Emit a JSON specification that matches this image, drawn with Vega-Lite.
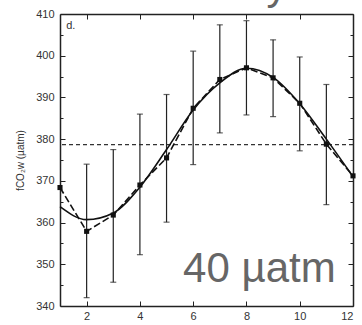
{
  "$schema": "https://vega.github.io/schema/vega-lite/v6.json",
  "width": 293,
  "height": 292,
  "autosize": "none",
  "padding": {"left": 60, "top": 14, "right": 9, "bottom": 19},
  "background": "white",
  "config": {
    "view": {"stroke": null},
    "font": "Liberation Sans",
    "axis": {
      "grid": false,
      "domainColor": "#222",
      "domainWidth": 1.5,
      "tickColor": "#222",
      "tickWidth": 1,
      "labelFont": "Liberation Sans",
      "labelFontSize": 11,
      "labelColor": "#333",
      "titleFont": "Liberation Sans",
      "titleFontWeight": "normal",
      "titleColor": "#333"
    }
  },
  "datasets": {
    "obs": [
      {"month": 1, "fco2": 368.4},
      {"month": 2, "fco2": 357.9, "lo": 342.0, "hi": 374.0},
      {"month": 3, "fco2": 361.8, "lo": 345.7, "hi": 377.5},
      {"month": 4, "fco2": 369.0, "lo": 352.3, "hi": 386.0},
      {"month": 5, "fco2": 375.5, "lo": 360.1, "hi": 390.7},
      {"month": 6, "fco2": 387.4, "lo": 373.9, "hi": 401.1},
      {"month": 7, "fco2": 394.3, "lo": 381.5, "hi": 407.4},
      {"month": 8, "fco2": 397.1, "lo": 385.8, "hi": 408.4},
      {"month": 9, "fco2": 394.7, "lo": 385.4, "hi": 403.8},
      {"month": 10, "fco2": 388.6, "lo": 377.2, "hi": 399.7},
      {"month": 11, "fco2": 378.8, "lo": 364.3, "hi": 393.1},
      {"month": 12, "fco2": 371.2}
    ],
    "fit": [
      {"month": 1, "fco2": 363.8},
      {"month": 2, "fco2": 360.7},
      {"month": 3, "fco2": 362.3},
      {"month": 4, "fco2": 368.5},
      {"month": 5, "fco2": 377.5},
      {"month": 6, "fco2": 387.0},
      {"month": 7, "fco2": 393.5},
      {"month": 8, "fco2": 397.0},
      {"month": 9, "fco2": 394.8},
      {"month": 10, "fco2": 388.5},
      {"month": 11, "fco2": 380.0},
      {"month": 12, "fco2": 371.0}
    ],
    "mean": [{"fco2": 378.7}],
    "labels": [
      {"month": 1.23, "fco2": 407.1, "text": "d.", "kind": "panel"},
      {"month": 5.62, "fco2": 345.7, "text": "40 µatm", "kind": "big"},
      {"month": 8.75, "fco2": 413.6, "text": "y", "kind": "top"},
      {"month": -0.88, "fco2": 335.4, "text": "Takahashi et al. (2010)", "kind": "caption"}
    ]
  },
  "resolve": {"axis": {"x": "independent", "y": "independent"}},
  "layer": [
    {
      "data": {"name": "mean"},
      "mark": {"type": "rule", "strokeDash": [4, 3], "color": "#333", "strokeWidth": 1.2},
      "encoding": {
        "y": {
          "field": "fco2", "type": "quantitative",
          "scale": {"domain": [340, 410], "nice": false, "zero": false},
          "axis": {
            "orient": "left",
            "values": [340, 345, 350, 355, 360, 365, 370, 375, 380, 385, 390, 395, 400, 405, 410],
            "labelExpr": "datum.value % 10 === 0 ? datum.label : ''",
            "tickSize": {"condition": {"test": "datum.value % 10 === 0", "value": -5}, "value": -3},
            "labelPadding": 11,
            "title": "fCO₂w (µatm)",
            "titleFontSize": 10,
            "titlePadding": 10
          }
        }
      }
    },
    {
      "data": {"name": "obs"},
      "mark": {"type": "rule", "color": "#222", "strokeWidth": 1.2},
      "encoding": {
        "x": {
          "field": "month", "type": "quantitative",
          "scale": {"domain": [1, 12], "nice": false, "zero": false},
          "axis": {
            "orient": "bottom",
            "values": [2, 4, 6, 8, 10, 12],
            "tickSize": -5,
            "labelPadding": 9,
            "title": null
          }
        },
        "y": {
          "field": "lo", "type": "quantitative",
          "axis": {
            "orient": "right",
            "values": [340, 345, 350, 355, 360, 365, 370, 375, 380, 385, 390, 395, 400, 405, 410],
            "labels": false,
            "tickSize": {"condition": {"test": "datum.value % 10 === 0", "value": -5}, "value": -3},
            "title": null
          }
        },
        "y2": {"field": "hi"}
      }
    },
    {
      "data": {"name": "obs"},
      "mark": {"type": "tick", "orient": "horizontal", "size": 6, "thickness": 1.2, "color": "#222"},
      "encoding": {
        "x": {
          "field": "month", "type": "quantitative",
          "axis": {"orient": "top", "values": [2, 4, 6, 8, 10, 12], "labels": false, "tickSize": -5, "title": null}
        },
        "y": {"field": "lo", "type": "quantitative", "axis": null}
      }
    },
    {
      "data": {"name": "obs"},
      "mark": {"type": "tick", "orient": "horizontal", "size": 6, "thickness": 1.2, "color": "#222"},
      "encoding": {
        "x": {"field": "month", "type": "quantitative", "axis": null},
        "y": {"field": "hi", "type": "quantitative", "axis": null}
      }
    },
    {
      "data": {"name": "obs"},
      "mark": {"type": "line", "color": "#111", "strokeWidth": 1.6, "strokeDash": [7, 3]},
      "encoding": {
        "x": {"field": "month", "type": "quantitative", "axis": null},
        "y": {"field": "fco2", "type": "quantitative", "axis": null}
      }
    },
    {
      "data": {"name": "obs"},
      "mark": {"type": "point", "shape": "square", "filled": true, "size": 26, "color": "#111", "opacity": 1},
      "encoding": {
        "x": {"field": "month", "type": "quantitative", "axis": null},
        "y": {"field": "fco2", "type": "quantitative", "axis": null}
      }
    },
    {
      "data": {"name": "fit"},
      "mark": {"type": "line", "color": "#111", "strokeWidth": 1.6, "interpolate": "monotone"},
      "encoding": {
        "x": {"field": "month", "type": "quantitative", "axis": null},
        "y": {"field": "fco2", "type": "quantitative", "axis": null}
      }
    },
    {
      "data": {"name": "labels"},
      "transform": [{"filter": "datum.kind === 'panel'"}],
      "mark": {"type": "text", "align": "left", "baseline": "middle", "fontSize": 11, "color": "#333"},
      "encoding": {
        "x": {"field": "month", "type": "quantitative", "axis": null},
        "y": {"field": "fco2", "type": "quantitative", "axis": null},
        "text": {"field": "text"}
      }
    },
    {
      "data": {"name": "labels"},
      "transform": [{"filter": "datum.kind === 'big' || datum.kind === 'top'"}],
      "mark": {"type": "text", "align": "left", "baseline": "alphabetic", "fontSize": 42, "color": "#666"},
      "encoding": {
        "x": {"field": "month", "type": "quantitative", "axis": null},
        "y": {"field": "fco2", "type": "quantitative", "axis": null},
        "text": {"field": "text"}
      }
    },
    {
      "data": {"name": "labels"},
      "transform": [{"filter": "datum.kind === 'caption'"}],
      "mark": {"type": "text", "align": "left", "baseline": "top", "fontSize": 14, "color": "#222"},
      "encoding": {
        "x": {"field": "month", "type": "quantitative", "axis": null},
        "y": {"field": "fco2", "type": "quantitative", "axis": null},
        "text": {"field": "text"}
      }
    }
  ]
}
